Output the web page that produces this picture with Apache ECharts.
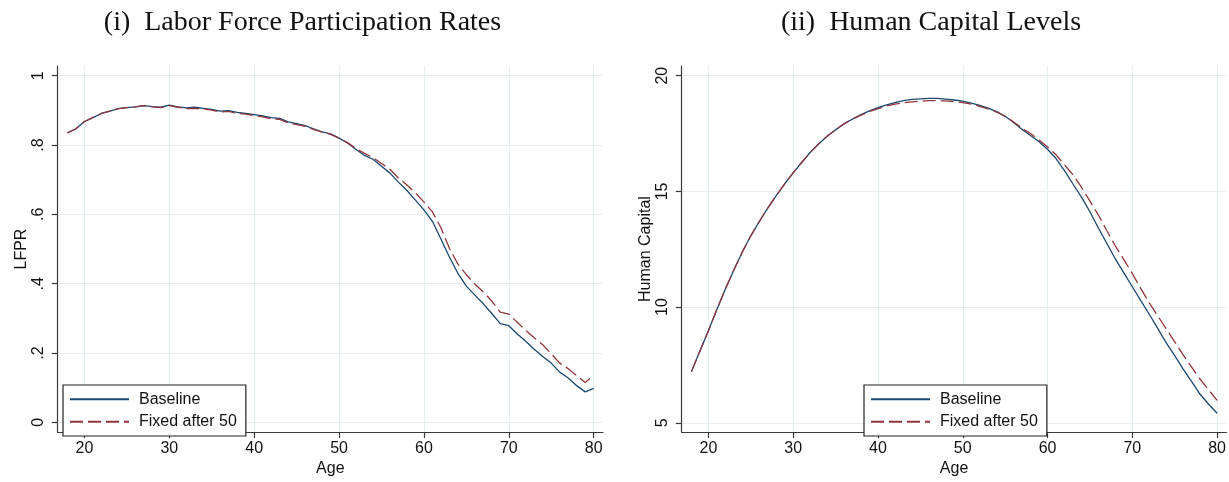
<!DOCTYPE html>
<html>
<head>
<meta charset="utf-8">
<script src="https://cdn.jsdelivr.net/npm/echarts@6/dist/echarts.min.js"></script>
<style>
  html, body { margin: 0; padding: 0; background: #ffffff; }
  #chart { width: 1229px; height: 482px; }
</style>
</head>
<body>
<div id="chart"></div>
<script>
// ---- Data ----
const ages = [18,19,20,21,22,23,24,25,26,27,28,29,30,31,32,33,34,35,36,37,38,39,40,41,42,43,44,45,46,47,48,49,
  50,51,52,53,54,55,56,57,58,59,60,61,62,63,64,65,66,67,68,69,70,71,72,73,74,75,76,77,78,79,80];

const lfprBaseline = [0.835,0.847,0.868,0.879,0.891,0.898,0.905,0.908,0.910,0.914,0.911,0.909,0.915,0.910,0.907,0.909,
  0.906,0.903,0.898,0.899,0.894,0.891,0.888,0.884,0.879,0.877,0.867,0.862,0.856,0.847,0.838,0.832,
  0.820,0.806,0.787,0.770,0.759,0.739,0.719,0.693,0.669,0.641,0.613,0.580,0.529,0.477,0.430,0.393,
  0.367,0.342,0.314,0.285,0.279,0.255,0.234,0.211,0.190,0.171,0.145,0.128,0.106,0.088,0.098];

const lfprFixed = [0.835,0.847,0.868,0.879,0.891,0.898,0.905,0.908,0.910,0.914,0.910,0.908,0.914,0.909,0.905,0.906,
  0.904,0.901,0.895,0.897,0.891,0.889,0.885,0.881,0.876,0.874,0.864,0.859,0.854,0.845,0.837,0.831,
  0.820,0.807,0.790,0.776,0.764,0.747,0.730,0.705,0.685,0.662,0.636,0.607,0.562,0.502,0.457,0.426,
  0.399,0.376,0.350,0.318,0.312,0.289,0.265,0.244,0.224,0.198,0.171,0.155,0.135,0.115,0.136];

const hcBaseline = [7.21,8.10,8.98,9.90,10.78,11.60,12.38,13.08,13.70,14.28,14.82,15.33,15.80,16.25,16.68,17.05,
  17.38,17.66,17.92,18.13,18.32,18.48,18.62,18.74,18.84,18.92,18.98,19.00,19.02,19.02,18.99,18.95,
  18.90,18.82,18.72,18.60,18.45,18.25,17.98,17.68,17.42,17.15,16.82,16.42,15.90,15.32,14.75,14.12,
  13.42,12.75,12.08,11.48,10.88,10.28,9.69,9.08,8.45,7.90,7.32,6.78,6.23,5.80,5.41];

const hcFixed = [7.21,8.10,8.98,9.90,10.78,11.60,12.38,13.08,13.70,14.28,14.82,15.33,15.80,16.25,16.68,17.05,
  17.38,17.66,17.92,18.13,18.30,18.45,18.58,18.69,18.77,18.83,18.87,18.90,18.92,18.92,18.91,18.88,
  18.84,18.77,18.68,18.57,18.43,18.24,18.00,17.73,17.50,17.22,16.92,16.58,16.15,15.72,15.18,14.58,
  13.98,13.30,12.64,12.05,11.45,10.80,10.18,9.62,9.06,8.50,7.93,7.40,6.88,6.42,5.97];

const ageTicks = [20,30,40,50,60,70,80];
const lfprTicks = [0,0.2,0.4,0.6,0.8,1];
const lfprTickLabels = ['0','.2','.4','.6','.8','1'];
const hcTicks = [5,10,15,20];
const seriesNames = ['Baseline','Fixed after 50'];
const panelTitles = ['(i)  Labor Force Participation Rates','(ii)  Human Capital Levels'];

// ---- Styles ----
const NAVY = '#1a476f';
const MAROON = '#90353b';
const AXIS = '#3a3a3a';
const GRID = '#e6eef0';
const TXT = '#111111';
const SANS = 'Liberation Sans, Arial, sans-serif';

function pairs(xs, ys) { return xs.map((x, i) => [x, ys[i]]); }

function xAxisFor(gridIndex) {
  return {
    type: 'value', gridIndex: gridIndex, min: 16.85, max: 81.1,
    name: 'Age', nameLocation: 'middle', nameGap: 24.5,
    nameTextStyle: { fontFamily: SANS, fontSize: 16, color: TXT },
    axisLine: { show: true, onZero: false, lineStyle: { color: AXIS, width: 1.2 } },
    axisTick: { show: true, length: 6, customValues: ageTicks, lineStyle: { color: AXIS, width: 1.2 } },
    axisLabel: { customValues: ageTicks, margin: 8, fontFamily: SANS, fontSize: 16, color: TXT },
    splitLine: { show: true, lineStyle: { color: GRID, width: 1.2 } }
  };
}

function yAxisFor(gridIndex, min, max, ticks, labels, name) {
  return {
    type: 'value', gridIndex: gridIndex, min: min, max: max,
    name: name, nameLocation: 'middle', nameGap: 28.5,
    nameTextStyle: { fontFamily: SANS, fontSize: 16, color: TXT },
    axisLine: { show: true, onZero: false, lineStyle: { color: AXIS, width: 1.2 } },
    axisTick: { show: true, length: 6, customValues: ticks, lineStyle: { color: AXIS, width: 1.2 } },
    axisLabel: {
      customValues: ticks, rotate: 90, margin: 11.5, fontFamily: SANS, fontSize: 16, color: TXT,
      formatter: function (v) {
        const idx = ticks.findIndex(t => Math.abs(t - v) < 1e-9);
        return idx >= 0 ? labels[idx] : String(v);
      }
    },
    splitLine: { show: true, lineStyle: { color: GRID, width: 1.2 } }
  };
}

function legendFor(left) {
  return {
    orient: 'vertical', left: left, top: 385,
    data: seriesNames,
    itemWidth: 59, itemHeight: 14, itemGap: 6.4,
    padding: [6.3, 9, 6.3, 6],
    backgroundColor: '#ffffff', borderColor: '#222222', borderWidth: 1.2, borderRadius: 0,
    selectedMode: false,
    itemStyle: { opacity: 0 },
    textStyle: { fontFamily: SANS, fontSize: 16, color: TXT, padding: [0, 0, 0, 5] }
  };
}

function lineSeries(name, xi, yi, data, color, dashed) {
  return {
    type: 'line', name: name, xAxisIndex: xi, yAxisIndex: yi,
    data: data, symbol: 'none', showSymbol: false, smooth: false,
    lineStyle: { color: color, width: 1.3, type: dashed ? [13, 5] : 'solid' },
    itemStyle: { color: color },
    emphasis: { disabled: true }
  };
}

const chart = echarts.init(document.getElementById('chart'), null, { renderer: 'canvas' });
chart.setOption({
  animation: false,
  backgroundColor: '#ffffff',
  title: [
    { text: panelTitles[0], left: 302.5, top: 9, textAlign: 'center', padding: 0,
      textStyle: { fontFamily: 'Liberation Serif, serif', fontSize: 28, fontWeight: 'normal', color: TXT } },
    { text: panelTitles[1], left: 931, top: 9, textAlign: 'center', padding: 0,
      textStyle: { fontFamily: 'Liberation Serif, serif', fontSize: 28, fontWeight: 'normal', color: TXT } }
  ],
  grid: [
    { left: 57.7, top: 66, width: 545.3, height: 375.7, containLabel: false },
    { left: 681.7, top: 66, width: 545.3, height: 375.7, containLabel: false }
  ],
  xAxis: [xAxisFor(0), xAxisFor(1)],
  yAxis: [
    yAxisFor(0, -0.028, 1.028, lfprTicks, lfprTickLabels, 'LFPR'),
    yAxisFor(1, 4.596, 20.42, hcTicks, hcTicks.map(String), 'Human Capital')
  ],
  legend: [legendFor(63), legendFor(864)],
  series: [
    lineSeries(seriesNames[0], 0, 0, pairs(ages, lfprBaseline), NAVY, false),
    lineSeries(seriesNames[1], 0, 0, pairs(ages, lfprFixed), MAROON, true),
    lineSeries(seriesNames[0], 1, 1, pairs(ages, hcBaseline), NAVY, false),
    lineSeries(seriesNames[1], 1, 1, pairs(ages, hcFixed), MAROON, true)
  ]
});
</script>
</body>
</html>
